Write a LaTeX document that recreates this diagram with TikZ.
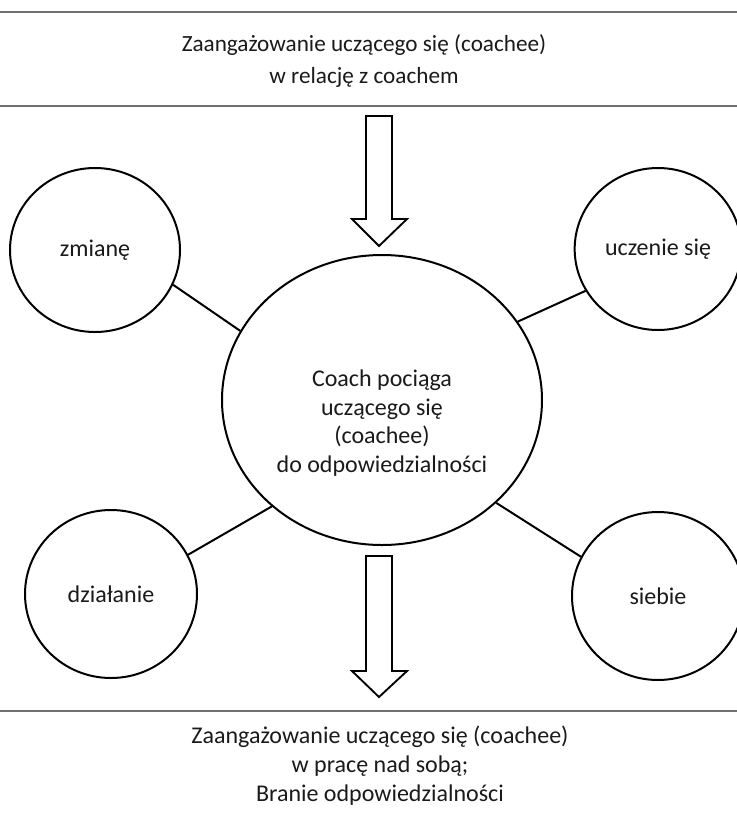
\documentclass[tikz,border=0pt]{standalone}
\usepackage{fontspec}
\setmainfont{Carlito}
\usetikzlibrary{shapes.geometric}
\definecolor{ink}{HTML}{1A1A1A}
\definecolor{rulegray}{HTML}{707070}
\begin{document}
\begin{tikzpicture}[x=0.75pt,y=-0.75pt,
  bubble/.style={draw=black, line width=1.5pt, ellipse, inner sep=0pt, fill=white,
                 text=ink, font=\fontsize{18}{22}\selectfont},
  caption/.style={text=ink, align=center, inner sep=0pt},
  link/.style={draw=black, line width=1.5pt},
  blockarrow/.style={draw=black, line width=1.4pt, fill=white, line join=miter},
  hrule/.style={draw=rulegray, line width=1.5pt}]
\useasboundingbox (0,0) rectangle (737,815);

% top statement
\draw[hrule] (0,12) -- (737,12);
\draw[hrule] (0,106) -- (737,106);
\node[caption, font=\fontsize{17.4}{24}\selectfont] (top) at (364,61)
  {Zaangażowanie uczącego się (coachee)\\w relację z coachem};

% central bubble and its text
\node[bubble, minimum width=240pt, minimum height=217.5pt] (c) at (382,400) {};
\node[caption, font=\fontsize{18}{21.5}\selectfont] (ctext) at (382,423)
  {Coach pociąga\\uczącego się\\(coachee)\\do odpowiedzialności};

% outer bubbles
\node[bubble, minimum width=127.5pt, minimum height=123pt] (zm) at (95,250) {zmianę};
\node[bubble, minimum width=125pt, minimum height=121.5pt] (uc) at (658,249) {uczenie się};
\node[bubble, minimum width=129pt, minimum height=126pt] (dz) at (111,594) {działanie};
\node[bubble, minimum width=129pt, minimum height=126pt] (sb) at (658,596) {siebie};

% spokes
\draw[link] (zm.-24) -- (c.154);
\draw[link] (uc.210.5) -- (c.30);
\draw[link] (dz.27) -- (c.224);
\draw[link] (sb.153.5) -- (c.-42);

% block arrows
\draw[blockarrow] (366,116) -- (392,116) -- (392,219) -- (407,219) -- (379,246)
  -- (352,219) -- (366,219) -- cycle;
\draw[blockarrow] (366,556) -- (392,556) -- (392,671) -- (407,671) -- (379,697)
  -- (352,671) -- (366,671) -- cycle;

% bottom statement
\draw[hrule] (0,711) -- (737,711);
\node[caption, font=\fontsize{18}{21.75}\selectfont] (bottom) at (380,766)
  {Zaangażowanie uczącego się (coachee)\\w pracę nad sobą;\\Branie odpowiedzialności};
\end{tikzpicture}
\end{document}
